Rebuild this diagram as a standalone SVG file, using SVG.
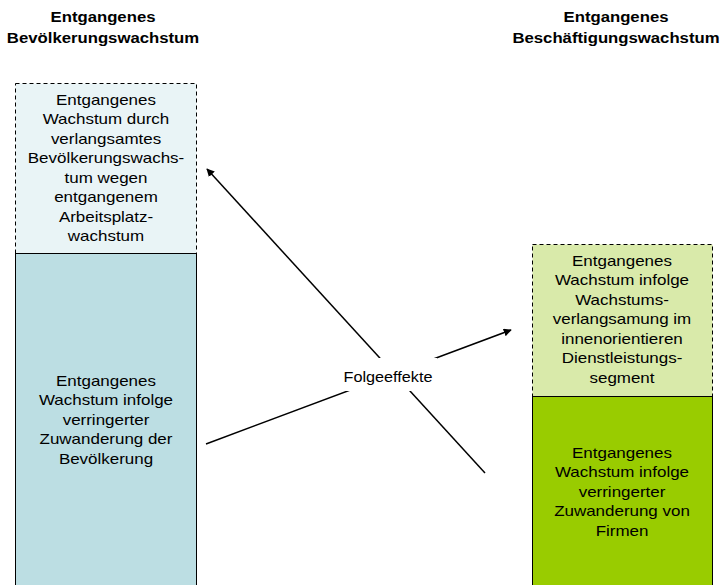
<svg xmlns="http://www.w3.org/2000/svg" width="728" height="585" viewBox="0 0 728 585">
<defs>
<style>
.t{font-family:"Liberation Sans",Arial,sans-serif;font-size:14.5px;fill:#000;text-anchor:middle}
.h{font-family:"Liberation Sans",Arial,sans-serif;font-size:14.3px;font-weight:bold;fill:#000;text-anchor:middle}
.dash{stroke:#000;stroke-width:1;stroke-dasharray:4,3}
.solid{stroke:#000;stroke-width:1}
.conn{stroke:#000;stroke-width:1.5;fill:none}
</style>
<marker id="ah" viewBox="0 0 10 10" refX="9" refY="5" markerWidth="8" markerHeight="8" markerUnits="userSpaceOnUse" orient="auto">
<path d="M0,0 L10,5 L0,10 z" fill="#000"/>
</marker>
</defs>
<rect width="728" height="585" fill="#fff"/>
<g id="header-left">
<g transform="translate(103 0) scale(1.17 1)">
<text class="h" x="0" y="22">Entgangenes</text>
<text class="h" x="0" y="43">Bevölkerungswachstum</text>
</g>
</g>
<g id="header-right">
<g transform="translate(616 0) scale(1.17 1)">
<text class="h" x="0" y="22">Entgangenes</text>
<text class="h" x="0" y="43">Beschäftigungswachstum</text>
</g>
</g>
<g id="left-top">
<rect x="15.5" y="83.5" width="181" height="170" fill="#E9F4F6" class="dash"/>
<g transform="translate(106 0) scale(1.17 1)">
<text class="t" x="0" y="105">Entgangenes</text>
<text class="t" x="0" y="124.5">Wachstum durch</text>
<text class="t" x="0" y="144">verlangsamtes</text>
<text class="t" x="0" y="163.5">Bevölkerungswachs-</text>
<text class="t" x="0" y="183">tum wegen</text>
<text class="t" x="0" y="202.5">entgangenem</text>
<text class="t" x="0" y="222">Arbeitsplatz-</text>
<text class="t" x="0" y="241.5">wachstum</text>
</g>
</g>
<g id="left-bottom">
<rect x="15.5" y="253.5" width="181" height="340" fill="#BCDEE3" class="solid"/>
<g transform="translate(106 0) scale(1.17 1)">
<text class="t" x="0" y="386">Entgangenes</text>
<text class="t" x="0" y="405.5">Wachstum infolge</text>
<text class="t" x="0" y="425">verringerter</text>
<text class="t" x="0" y="444.5">Zuwanderung der</text>
<text class="t" x="0" y="464">Bevölkerung</text>
</g>
</g>
<g id="right-top">
<rect x="532.5" y="244.5" width="180" height="152" fill="#D9EAAA" class="dash"/>
<g transform="translate(622 0) scale(1.17 1)">
<text class="t" x="0" y="266">Entgangenes</text>
<text class="t" x="0" y="285.5">Wachstum infolge</text>
<text class="t" x="0" y="305">Wachstums-</text>
<text class="t" x="0" y="324.5">verlangsamung im</text>
<text class="t" x="0" y="344">innenorientieren</text>
<text class="t" x="0" y="363.5">Dienstleistungs-</text>
<text class="t" x="0" y="383">segment</text>
</g>
</g>
<g id="right-bottom">
<rect x="532.5" y="396.5" width="180" height="200" fill="#99CC00" class="solid"/>
<g transform="translate(622 0) scale(1.17 1)">
<text class="t" x="0" y="458">Entgangenes</text>
<text class="t" x="0" y="477.5">Wachstum infolge</text>
<text class="t" x="0" y="497">verringerter</text>
<text class="t" x="0" y="516.5">Zuwanderung von</text>
<text class="t" x="0" y="536">Firmen</text>
</g>
</g>
<g id="connectors">
<line class="conn" x1="485" y1="473" x2="207" y2="169" marker-end="url(#ah)"/>
<line class="conn" x1="206" y1="444" x2="511" y2="330" marker-end="url(#ah)"/>
</g>
<g id="label-folgeeffekte">
<rect x="345" y="358" width="92" height="33" fill="#fff"/>
<g transform="translate(388 0) scale(1.12 1)">
<text class="t" x="0" y="382">Folgeeffekte</text>
</g>
</g>
</svg>
